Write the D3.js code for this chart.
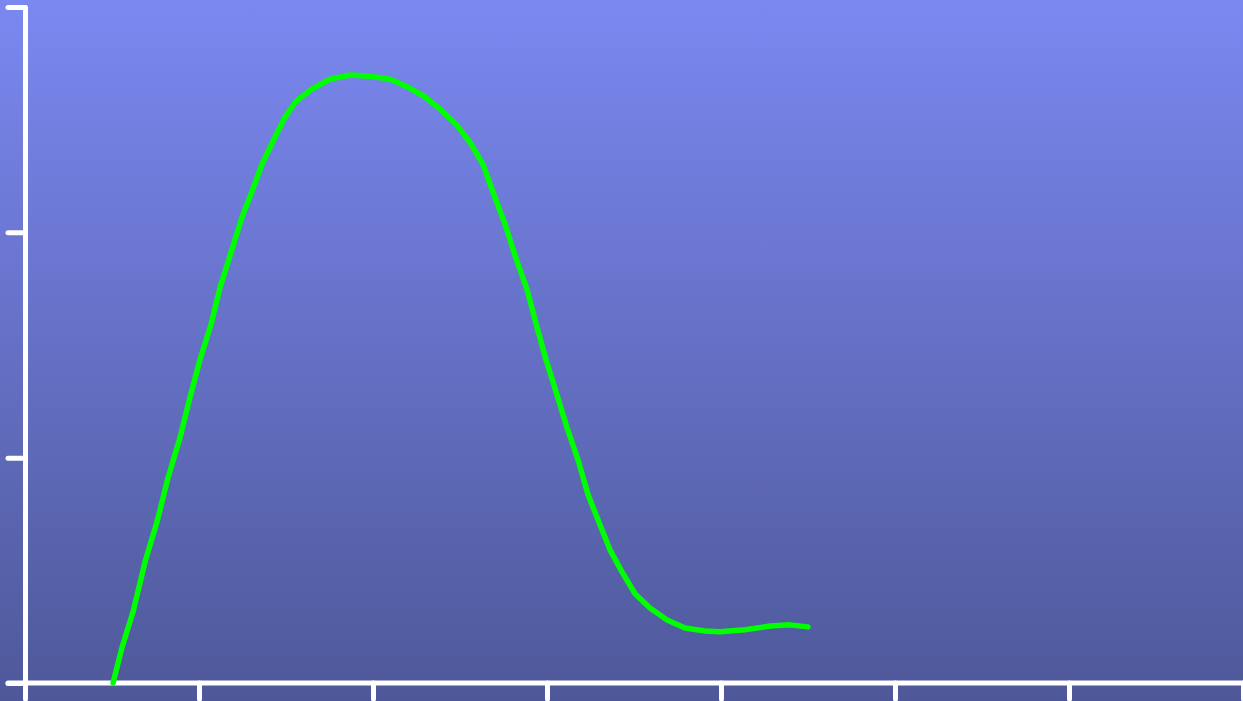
<!DOCTYPE html>
<html>
<head>
<meta charset="utf-8">
<script src="https://cdn.jsdelivr.net/npm/d3@7"></script>
<style>
  html, body { margin: 0; padding: 0; overflow: hidden; }
  svg { display: block; }
</style>
</head>
<body>
<div id="chart"></div>
<script>
// Declare constants
const FRAME_WIDTH = 1243;
const FRAME_HEIGHT = 701;
const MARGINS = {left: 25, right: 0, top: 7, bottom: 18};

// Data
const xValues = [0.506, 0.557, 0.621, 0.690, 0.759, 0.822, 0.891, 0.948, 1.006, 1.069,
                 1.121, 1.184, 1.247, 1.305, 1.362, 1.431, 1.494, 1.557, 1.649, 1.753,
                 1.868, 1.983, 2.098, 2.201, 2.293, 2.385, 2.477, 2.557, 2.632, 2.690,
                 2.759, 2.816, 2.885, 2.943, 2.994, 3.057, 3.115, 3.178, 3.236, 3.293,
                 3.362, 3.431, 3.506, 3.592, 3.690, 3.793, 3.908, 3.994, 4.138, 4.282,
                 4.397, 4.500];
const yValues = [0.000, 0.156, 0.316, 0.538, 0.716, 0.911, 1.089, 1.267, 1.436, 1.591,
                 1.756, 1.911, 2.067, 2.182, 2.302, 2.413, 2.511, 2.582, 2.636, 2.680,
                 2.698, 2.693, 2.680, 2.644, 2.604, 2.547, 2.480, 2.400, 2.302, 2.178,
                 2.036, 1.898, 1.747, 1.578, 1.436, 1.280, 1.133, 0.991, 0.836, 0.724,
                 0.591, 0.493, 0.396, 0.333, 0.280, 0.244, 0.231, 0.227, 0.236, 0.253,
                 0.258, 0.249];
const xTicks = [0, 1, 2, 3, 4, 5, 6, 7];
const yTicks = [0, 1, 2, 3];

const svg = d3.select("#chart")
              .append("svg")
                .attr("width", FRAME_WIDTH)
                .attr("height", FRAME_HEIGHT);

// background gradient
const grad = svg.append("defs").append("linearGradient")
                .attr("id", "bg")
                .attr("x1", 0).attr("y1", 0).attr("x2", 0).attr("y2", 1);
grad.append("stop").attr("offset", "0%").attr("stop-color", "rgb(123,136,240)");
grad.append("stop").attr("offset", "100%").attr("stop-color", "rgb(78,88,153)");

svg.append("rect")
   .attr("width", FRAME_WIDTH)
   .attr("height", FRAME_HEIGHT)
   .attr("fill", "url(#bg)");

const x = d3.scaleLinear().domain([0, 7]).range([MARGINS.left, FRAME_WIDTH - MARGINS.right]);
const y = d3.scaleLinear().domain([0, 3]).range([FRAME_HEIGHT - MARGINS.bottom, MARGINS.top]);

// axes, no labels
const xAxis = svg.append("g")
   .attr("transform", `translate(0,${FRAME_HEIGHT - MARGINS.bottom})`)
   .call(d3.axisBottom(x).tickValues(xTicks).tickSize(16).tickSizeOuter(0).tickFormat(""));

const yAxis = svg.append("g")
   .attr("transform", `translate(${MARGINS.left},0)`)
   .call(d3.axisLeft(y).tickValues(yTicks).tickSize(17).tickSizeOuter(0).tickFormat(""));

svg.selectAll(".domain, .tick line")
   .attr("stroke", "white")
   .attr("stroke-width", 5)
   .attr("stroke-linecap", "round");

// extend x axis line to the left over the y tick
xAxis.select(".domain").attr("d", `M${MARGINS.left - 17},0H${FRAME_WIDTH + 5}`);

const points = xValues.map((d, i) => [d, yValues[i]]);

svg.append("path")
   .datum(points)
   .attr("fill", "none")
   .attr("stroke", "#00ff00")
   .attr("stroke-width", 5.5)
   .attr("stroke-linecap", "round")
   .attr("stroke-linejoin", "round")
   .attr("d", d3.line().x(d => x(d[0])).y(d => y(d[1])));
</script>
</body>
</html>
